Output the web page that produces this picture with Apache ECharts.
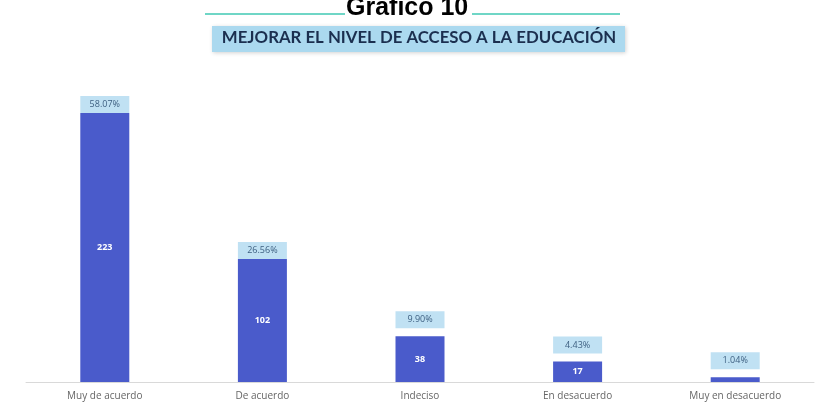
<!DOCTYPE html>
<html>
<head>
<meta charset="utf-8">
<script src="https://cdn.jsdelivr.net/npm/echarts@6/dist/echarts.min.js"></script>
<style>
html,body{margin:0;padding:0;background:#fff;}
#chart{width:817px;height:411px;}
</style>
</head>
<body>
<div id="chart"></div>
<script>
const categories = ['Muy de acuerdo', 'De acuerdo', 'Indeciso', 'En desacuerdo', 'Muy en desacuerdo'];
const counts = [223, 102, 38, 17, 4];
const percents = ['58.07%', '26.56%', '9.90%', '4.43%', '1.04%'];
const chartTitle = 'Gráfico 10';
const chartSubtitle = 'MEJORAR EL NIVEL DE ACCESO A LA EDUCACIÓN';

const chart = echarts.init(document.getElementById('chart'), null, {renderer: 'canvas'});
const option = {
  animation: false,
  backgroundColor: '#ffffff',
  grid: {left: 26, right: 3, top: 60, bottom: 29},
  xAxis: {
    type: 'category',
    data: categories,
    axisLine: {lineStyle: {color: '#d9d9d9', width: 1}},
    axisTick: {show: false},
    axisLabel: {color: '#666666', fontSize: 10, fontFamily: 'Open Sans', margin: 9}
  },
  yAxis: {type: 'value', min: 0, max: 267, show: false, splitLine: {show: false}},
  graphic: [
    {type: 'rect', shape: {x: 205, y: 13, width: 140, height: 2}, style: {fill: '#6fd6c6'}, z: 1},
    {type: 'rect', shape: {x: 472, y: 13, width: 148, height: 2}, style: {fill: '#6fd6c6'}, z: 1},
    {type: 'rect', shape: {x: 212, y: 26, width: 413, height: 26},
     style: {fill: '#abd9ef', shadowBlur: 4, shadowColor: 'rgba(0,0,0,0.18)', shadowOffsetX: 1, shadowOffsetY: 1}, z: 1},
    {type: 'text', x: 419, y: 29, z: 3,
     style: {text: chartSubtitle, fill: '#1b2f4f', font: 'bold 16.8px Lato', textAlign: 'center'}},
    {type: 'text', left: 346, top: -4, z: 5,
     style: {text: chartTitle, fill: '#000', font: 'bold 25px "Liberation Sans"'}}
  ],
  series: [
    {
      type: 'bar',
      data: counts,
      barWidth: 49,
      itemStyle: {color: '#4a5bcb'},
      label: {
        show: true, position: 'inside', color: '#ffffff', fontSize: 9, fontWeight: 'bold',
        fontFamily: 'Open Sans',
        formatter: p => (p.value >= 10 ? String(p.value) : '')
      },
      z: 2
    },
    {
      type: 'bar',
      data: counts.map((v, i) => ({
        value: v,
        label: {distance: v > 60 ? 0 : 8}
      })),
      barWidth: 49,
      barGap: '-100%',
      itemStyle: {color: 'rgba(0,0,0,0)'},
      label: {
        show: true, position: 'top',
        formatter: p => percents[p.dataIndex],
        backgroundColor: '#c0e1f3',
        color: '#3d5f80', fontSize: 9, fontFamily: 'Open Sans',
        width: 45, align: 'center', padding: [3, 2, 3, 2], lineHeight: 11
      },
      silent: true,
      z: 3
    }
  ]
};
chart.setOption(option);
</script>
</body>
</html>
